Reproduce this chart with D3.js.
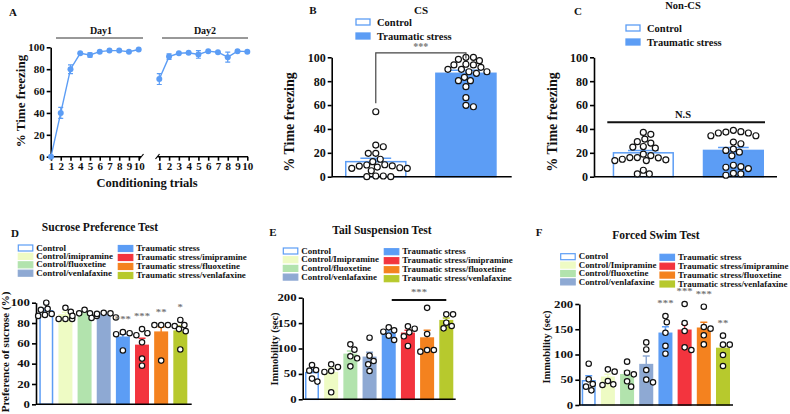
<!DOCTYPE html>
<html>
<head>
<meta charset="utf-8">
<script src="https://cdn.jsdelivr.net/npm/d3@7"></script>
<style>
  body { margin: 0; background: #fff; }
  svg text { font-family: "Liberation Serif", "Times New Roman", serif; font-weight: bold; fill: #111; }
</style>
</head>
<body>
<svg id="fig" width="790" height="414"></svg>
<script>
// ---- data ----
var trials = [1, 2, 3, 4, 5, 6, 7, 8, 9, 10];
var day1Mean = [0, 40, 80, 94.5, 93, 96, 97, 97, 96, 98];
var day1Err = [0, 5, 4, 1, 2, 1, 1, 1, 1, 1];
var day2Mean = [71, 91.5, 94.5, 95, 93.5, 96.5, 95.5, 91, 96.5, 96];
var day2Err = [5, 2.5, 1, 1, 3.5, 1, 1, 4.5, 1, 1];

var groups2 = ["Control", "Traumatic stress"];
var csMean = [12.6, 86.6];
var csErr = [2.8, 2.5];
var csControl = [54.4, 26.5, 25.1, 19.6, 19.6, 14.6, 12.6, 9.8, 9, 7.5, 5, 7, 7, 8.1, 8.9, 10, 0.6, 0, 0, 0.6];
var csTrauma = [100, 98.3, 97.2, 100, 93.6, 91.6, 87.9, 89.9, 86.6, 89.9, 87.9, 93.6, 94.2, 80.4, 83.2, 80.4, 75.4, 66.2, 58.6, 59.8];
var noncsMean = [20, 22];
var noncsErr = [2, 2.5];
var noncsControl = [37.1, 35.5, 31.5, 29.3, 28.2, 24.8, 24, 25.3, 17.7, 15.8, 14.1, 13.5, 13.5, 14.6, 16, 16, 18.9, 5.4, 2.3, 2.3];
var noncsTrauma = [37.7, 36.6, 34.3, 36.6, 37.4, 38.8, 34.3, 29, 27.6, 23.1, 17.5, 20.5, 22, 9.6, 7.9, 6.8, 8.4, 2.8, 1.2, 2.3];

var groups8 = ["Control", "Control/imipramine", "Control/fluoxetine", "Control/venlafaxine",
  "Traumatic stress", "Traumatic stress/imipramine", "Traumatic stress/fluoxetine", "Traumatic stress/venlafaxine"];
var groups8cap = ["Control", "Control/Imipramine", "Control/fluoxetine", "Control/venlafaxine",
  "Traumatic stress", "Traumatic stress/imipramine", "Traumatic stress/fluoxetine", "Traumatic stress/venlafaxine"];

var sucroseMean = [92, 88, 89.5, 88, 66, 58, 71, 72];
var sucroseErr = [2, 2.5, 1.5, 1.5, 3, 7, 5, 5];
var sucrosePts = [
  [100, 94, 93, 89, 87, 88],
  [95, 91, 84, 84, 84],
  [93, 89.5, 89.5, 87, 87],
  [90, 89, 89.5, 85, 85.5],
  [71, 68, 70, 69, 53],
  [74, 70, 61, 45, 38],
  [78, 77, 78, 78, 43],
  [78, 83, 74, 72, 54]
];
var sucroseStars = ["", "", "", "", "***", "***", "**", "*"];

var tailMean = [52.5, 52.5, 88.5, 82.6, 132.5, 130, 120.6, 154.8];
var tailErr = [6, 9, 6.5, 10, 4.5, 6, 15.5, 5];
var tailPts = [
  [57.7, 56.4, 67.5, 34.8, 40.7],
  [55.7, 53.8, 68.9, 63.6, 13.8],
  [97.7, 108.2, 84.6, 80.7, 64.9],
  [121.3, 75.4, 85.9, 68.9, 55.7],
  [135.7, 133.1, 141.6, 116.7, 125.2],
  [139, 143.6, 131.8, 124, 105],
  [180, 128.5, 97, 93.8, 97],
  [167.2, 167.2, 150.8, 139.7, 144.3]
];

var swimMean = [48, 55, 60, 80, 142, 148, 152, 112];
var swimErr = [10, 6, 8, 17, 13, 12, 12, 5];
var swimPts = [
  [81.8, 50.8, 29, 36.3, 41.6],
  [70.6, 66, 47.5, 39.6, 40.9],
  [85.8, 64, 60.7, 36.3, 46.9],
  [124, 110, 69.3, 44.9, 50.2],
  [176, 164, 143, 117, 101.6],
  [200, 162.4, 146.5, 108.9, 114.2],
  [194.7, 154.5, 151.2, 138, 120],
  [137.3, 119.5, 119.5, 99, 77.2]
];
var swimStars = ["", "", "", "", "***", "***", "***", "**"];

// colours
var blue = "#5c9df5";
var fills8 = ["#ffffff", "#eefbc4", "#b2e3ad", "#8ea9d3", blue, "#f3343e", "#f4821f", "#b7c92d"];
var strokes8 = [blue, "#eefbc4", "#b2e3ad", "#8ea9d3", blue, "#f3343e", "#f4821f", "#b7c92d"];

// the bottom row of the figure is stretched sideways
var stretch = 1.35;
var legStretch = 1.24;

var svg = d3.select("#fig");

function txt(x, y, s, size, anchor) {
  return svg.append("text").attr("x", x).attr("y", y).attr("text-anchor", anchor || "middle")
    .style("font-size", size + "px").text(s);
}

function styleAxis(g, fs, sx) {
  g.select(".domain").attr("stroke", "#000").attr("stroke-width", 1.6);
  g.selectAll(".tick line").attr("stroke", "#000").attr("stroke-width", 1.6);
  var t = g.selectAll(".tick text").style("font-size", fs + "px").attr("fill", "#111");
  if (sx) t.attr("transform", "scale(" + sx + ",1)");
}

// simple beeswarm: spread points sideways so circles don't overlap
function swarm(vals, y, r) {
  var order = d3.range(vals.length).sort(function(a, b) { return vals[b] - vals[a]; });
  var placed = [], dx = [];
  var d = 2 * r + 0.7;
  order.forEach(function(i) {
    var cy = y(vals[i]);
    for (var k = 0; k < 80; k++) {
      var off = (k % 2 ? 1 : -1) * Math.ceil(k / 2) * r * 0.5;
      var ok = placed.every(function(p) { return Math.hypot(p[0] - off, p[1] - cy) >= d; });
      if (ok) { dx[i] = off; placed.push([off, cy]); break; }
    }
  });
  return dx;
}

// ---------------- Panel A ----------------
var xa1 = d3.scaleLinear().domain([1, 10]).range([51, 138.7]);
var xa2 = d3.scaleLinear().domain([1, 10]).range([159.3, 247.3]);
var ya = d3.scaleLinear().domain([0, 100]).range([156.7, 47.3]);

var gA = svg.append("g");
gA.append("g").attr("transform", "translate(50.7,0)")
  .call(d3.axisLeft(ya).tickValues([0, 20, 40, 60, 80, 100]).tickSize(4).tickSizeOuter(0).tickPadding(2))
  .call(function(g) { styleAxis(g, 11); });

[[xa1, 50.7, 141], [xa2, 157.5, 248]].forEach(function(a, idx) {
  var g = gA.append("g").attr("transform", "translate(0,156.7)")
    .call(d3.axisBottom(a[0]).tickValues(trials).tickSize(4).tickSizeOuter(0).tickPadding(2))
    .call(function(g) { styleAxis(g, 11); });
  g.select(".domain").remove();
  gA.append("line").attr("x1", a[1]).attr("x2", a[2]).attr("y1", 156.7).attr("y2", 156.7)
    .attr("stroke", "#000").attr("stroke-width", 1.6);
  var bx = idx === 0 ? 141.5 : 157.5;
  gA.append("line").attr("x1", bx - 2).attr("x2", bx + 2).attr("y1", 159).attr("y2", 154)
    .attr("stroke", "#000").attr("stroke-width", 1.2);
});

[[xa1, day1Mean, day1Err], [xa2, day2Mean, day2Err]].forEach(function(s) {
  var xs = s[0];
  gA.append("path").datum(s[1])
    .attr("d", d3.line().x(function(d, i) { return xs(trials[i]); }).y(function(d) { return ya(d); }))
    .attr("fill", "none").attr("stroke", blue).attr("stroke-width", 1.4);
  s[1].forEach(function(m, i) {
    var e = s[2][i];
    if (e > 1) {
      var cx = xs(trials[i]);
      gA.append("path")
        .attr("d", "M" + cx + "," + ya(m - e) + "V" + ya(m + e) +
          "M" + (cx - 2.5) + "," + ya(m - e) + "H" + (cx + 2.5) +
          "M" + (cx - 2.5) + "," + ya(m + e) + "H" + (cx + 2.5))
        .attr("stroke", blue).attr("stroke-width", 1.2).attr("fill", "none");
    }
  });
  gA.selectAll(null).data(s[1]).enter().append("circle")
    .attr("cx", function(d, i) { return xs(trials[i]); })
    .attr("cy", function(d) { return ya(d); })
    .attr("r", 3).attr("fill", blue);
});

gA.append("line").attr("x1", 56).attr("x2", 143).attr("y1", 38).attr("y2", 38).attr("stroke", "#333").attr("stroke-width", 1);
gA.append("line").attr("x1", 162).attr("x2", 248).attr("y1", 38).attr("y2", 38).attr("stroke", "#333").attr("stroke-width", 1);
txt(101, 34, "Day1", 10);
txt(205, 34, "Day2", 10);
txt(13, 16, "A", 11);
txt(147, 187, "Conditioning trials", 12.5);
svg.append("text").attr("transform", "translate(25,101) rotate(-90)").attr("text-anchor", "middle")
  .style("font-size", "13px").text("% Time freezing");

// ---------------- bar panel helper ----------------
function barPanel(p) {
  var g = svg.append("g");
  var y = d3.scaleLinear().domain([0, p.ymax]).range([p.base, p.top]);
  var x = d3.scaleBand().domain(p.groups).range([p.bx0, p.bx1]).paddingInner(p.pad);
  var bw = x.bandwidth();

  g.selectAll(null).data(p.groups).enter().append("rect")
    .attr("x", function(d) { return x(d) + 0.75; })
    .attr("y", function(d, i) { return y(p.mean[i]); })
    .attr("width", bw - 1.5)
    .attr("height", function(d, i) { return p.base - y(p.mean[i]); })
    .attr("fill", function(d, i) { return p.fills[i]; })
    .attr("stroke", function(d, i) { return p.strokes[i]; })
    .attr("stroke-width", 1.5);

  // mean + SEM (upward only)
  g.selectAll(null).data(p.groups).enter().append("path")
    .attr("d", function(d, i) {
      var cx = x(d) + bw / 2, cw = bw * 0.25;
      return "M" + cx + "," + y(p.mean[i]) + "V" + y(p.mean[i] + p.err[i]) +
        "M" + (cx - cw) + "," + y(p.mean[i] + p.err[i]) + "H" + (cx + cw);
    })
    .attr("stroke", function(d, i) { return p.strokes[i]; })
    .attr("stroke-width", 1.5).attr("fill", "none");

  // axes
  g.append("g").attr("transform", "translate(" + p.ax + ",0)")
    .call(d3.axisLeft(y).tickValues(p.ticks).tickSize(4).tickSizeOuter(0).tickPadding(p.tickPad || 2))
    .call(function(a) { styleAxis(a, p.tickFs, p.sx); });
  g.append("line").attr("x1", p.ax).attr("x2", p.axEnd).attr("y1", p.base).attr("y2", p.base)
    .attr("stroke", "#000").attr("stroke-width", 1.6);

  // individual animals
  p.pts.forEach(function(vals, gi) {
    var dx = swarm(vals, y, p.r);
    var cx = x(p.groups[gi]) + bw / 2;
    g.selectAll(null).data(vals).enter().append("circle")
      .attr("cx", function(d, i) { return cx + dx[i]; })
      .attr("cy", function(d) { return y(d); })
      .attr("r", p.r).attr("fill", "#fff").attr("stroke", "#111").attr("stroke-width", 1.2);
    if (p.stars && p.stars[gi]) {
      var top = d3.max(vals.concat([p.mean[gi] + p.err[gi]]));
      g.append("text").attr("transform", "translate(" + cx + "," + (y(top) - 10) + ") scale(" + stretch + ",1)")
        .attr("text-anchor", "middle")
        .style("font-size", "8px").style("fill", "#777").text(p.stars[gi]);
    }
  });
  return { x: x, y: y, g: g };
}

function legend2(x, y0, gap, fs) {
  groups2.forEach(function(name, i) {
    svg.append("rect").attr("x", x).attr("y", y0 + i * gap - 3).attr("width", 14).attr("height", 6)
      .attr("fill", i ? blue : "#fff").attr("stroke", blue).attr("stroke-width", 1.3);
    txt(x + 21, y0 + i * gap + 3.5, name, fs, "start");
  });
}

function legend8(labels, x1, y1, g1, x2, y2, g2) {
  labels.forEach(function(name, i) {
    var col = i < 4 ? 0 : 1, row = i % 4;
    var lx = col ? x2 : x1, ly = col ? y2 + row * g2 : y1 + row * g1;
    svg.append("rect").attr("x", lx).attr("y", ly - 3).attr("width", 14.5).attr("height", 6)
      .attr("fill", fills8[i]).attr("stroke", strokes8[i]).attr("stroke-width", 1.2);
    svg.append("text").attr("transform", "translate(" + (lx + 18) + "," + (ly + 2.6) + ") scale(" + legStretch + ",1)")
      .attr("text-anchor", "start").style("font-size", "7.2px").text(name);
  });
}

// ---------------- Panel B ----------------
var pB = barPanel({
  groups: groups2, mean: csMean, err: csErr, pts: [csControl, csTrauma],
  fills: ["#fff", blue], strokes: [blue, blue],
  ymax: 100, base: 176.7, top: 57.3, bx0: 345, bx1: 496.7, pad: 0.317,
  ax: 331.7, axEnd: 511.7, ticks: [0, 20, 40, 60, 80, 100], tickFs: 12, r: 3
});
var cB0 = pB.x("Control") + pB.x.bandwidth() / 2, cB1 = pB.x("Traumatic stress") + pB.x.bandwidth() / 2;
svg.append("path")
  .attr("d", "M" + cB0 + "," + pB.y(61.5) + "V" + pB.y(103.7) + "H" + cB1 + "V" + pB.y(99))
  .attr("fill", "none").attr("stroke", "#444").attr("stroke-width", 1.2);
txt((cB0 + cB1) / 2, 50, "***", 10).style("fill", "#777");
txt(313, 14, "B", 11);
txt(421, 14, "CS", 11);
legend2(356, 22, 14, 10.5);
svg.append("text").attr("transform", "translate(294,122) rotate(-90)").attr("text-anchor", "middle")
  .style("font-size", "14px").text("% Time freezing");

// ---------------- Panel C ----------------
var pC = barPanel({
  groups: groups2, mean: noncsMean, err: noncsErr, pts: [noncsControl, noncsTrauma],
  fills: ["#fff", blue], strokes: [blue, blue],
  ymax: 100, base: 176.7, top: 57.3, bx0: 612.7, bx1: 764, pad: 0.32,
  ax: 594, axEnd: 777, ticks: [0, 20, 40, 60, 80, 100], tickFs: 12, r: 3
});
svg.append("line").attr("x1", 607.3).attr("x2", 765).attr("y1", pC.y(45.6)).attr("y2", pC.y(45.6))
  .attr("stroke", "#111").attr("stroke-width", 1.8);
txt(683, 118, "N.S", 10.5);
txt(578, 15, "C", 11);
txt(683, 9, "Non-CS", 10.5);
legend2(626, 28, 14, 10.5);
svg.append("text").attr("transform", "translate(557,122) rotate(-90)").attr("text-anchor", "middle")
  .style("font-size", "14px").text("% Time freezing");

// ---------------- Panel D ----------------
barPanel({
  groups: groups8, mean: sucroseMean, err: sucroseErr, pts: sucrosePts, stars: sucroseStars,
  fills: fills8, strokes: strokes8,
  ymax: 100, base: 404.3, top: 302.7, bx0: 39.3, bx1: 187.3, pad: 0.27,
  ax: 36, axEnd: 191.7, ticks: [0, 20, 40, 60, 80, 100], tickFs: 9.5, sx: stretch, tickPad: 0.5, r: 2.7
});
txt(15, 237, "D", 11);
txt(100, 231, "Sucrose Preference Test", 11.5);
legend8(groups8, 18.3, 248, 8.4, 118.3, 248.5, 9);
svg.append("text").attr("transform", "translate(9,352) rotate(-90)").attr("text-anchor", "middle")
  .style("font-size", "11px").text("Preference of sucrose (%)");

// ---------------- Panel E ----------------
var pE = barPanel({
  groups: groups8, mean: tailMean, err: tailErr, pts: tailPts,
  fills: fills8, strokes: strokes8,
  ymax: 200, base: 399.3, top: 297.7, bx0: 305, bx1: 453.3, pad: 0.27,
  ax: 302.7, axEnd: 455.7, ticks: [0, 50, 100, 150, 200], tickFs: 9.5, sx: stretch, tickPad: 0.5, r: 2.7
});
var e5 = pE.x(groups8[4]) + pE.x.bandwidth() / 2 + 3, e8 = pE.x(groups8[7]) + pE.x.bandwidth() / 2;
svg.append("line").attr("x1", e5).attr("x2", e8).attr("y1", 300).attr("y2", 300)
  .attr("stroke", "#111").attr("stroke-width", 1.8);
svg.append("text").attr("transform", "translate(" + ((e5 + e8) / 2) + ",295) scale(" + stretch + ",1)")
  .attr("text-anchor", "middle").style("font-size", "8px").style("fill", "#777").text("***");
txt(273, 236, "E", 11);
txt(382, 234, "Tail Suspension Test", 11.5);
legend8(groups8cap, 283.3, 251, 8.7, 384.3, 251.7, 9);
svg.append("text").attr("transform", "translate(278,349) rotate(-90)").attr("text-anchor", "middle")
  .style("font-size", "10.5px").text("Immobility (sec)");

// ---------------- Panel F ----------------
barPanel({
  groups: groups8, mean: swimMean, err: swimErr, pts: swimPts, stars: swimStars,
  fills: fills8, strokes: strokes8,
  ymax: 200, base: 405, top: 304, bx0: 581.7, bx1: 730, pad: 0.27,
  ax: 579.3, axEnd: 733, ticks: [0, 50, 100, 150, 200], tickFs: 9.5, sx: stretch, tickPad: 0.5, r: 2.7
});
txt(539, 236, "F", 11);
txt(656, 239, "Forced Swim Test", 11.5);
legend8(groups8cap, 560.7, 256.7, 8.4, 660, 257.3, 8.9);
svg.append("text").attr("transform", "translate(550,347) rotate(-90)").attr("text-anchor", "middle")
  .style("font-size", "10.5px").text("Immobility (sec)");
</script>
</body>
</html>
